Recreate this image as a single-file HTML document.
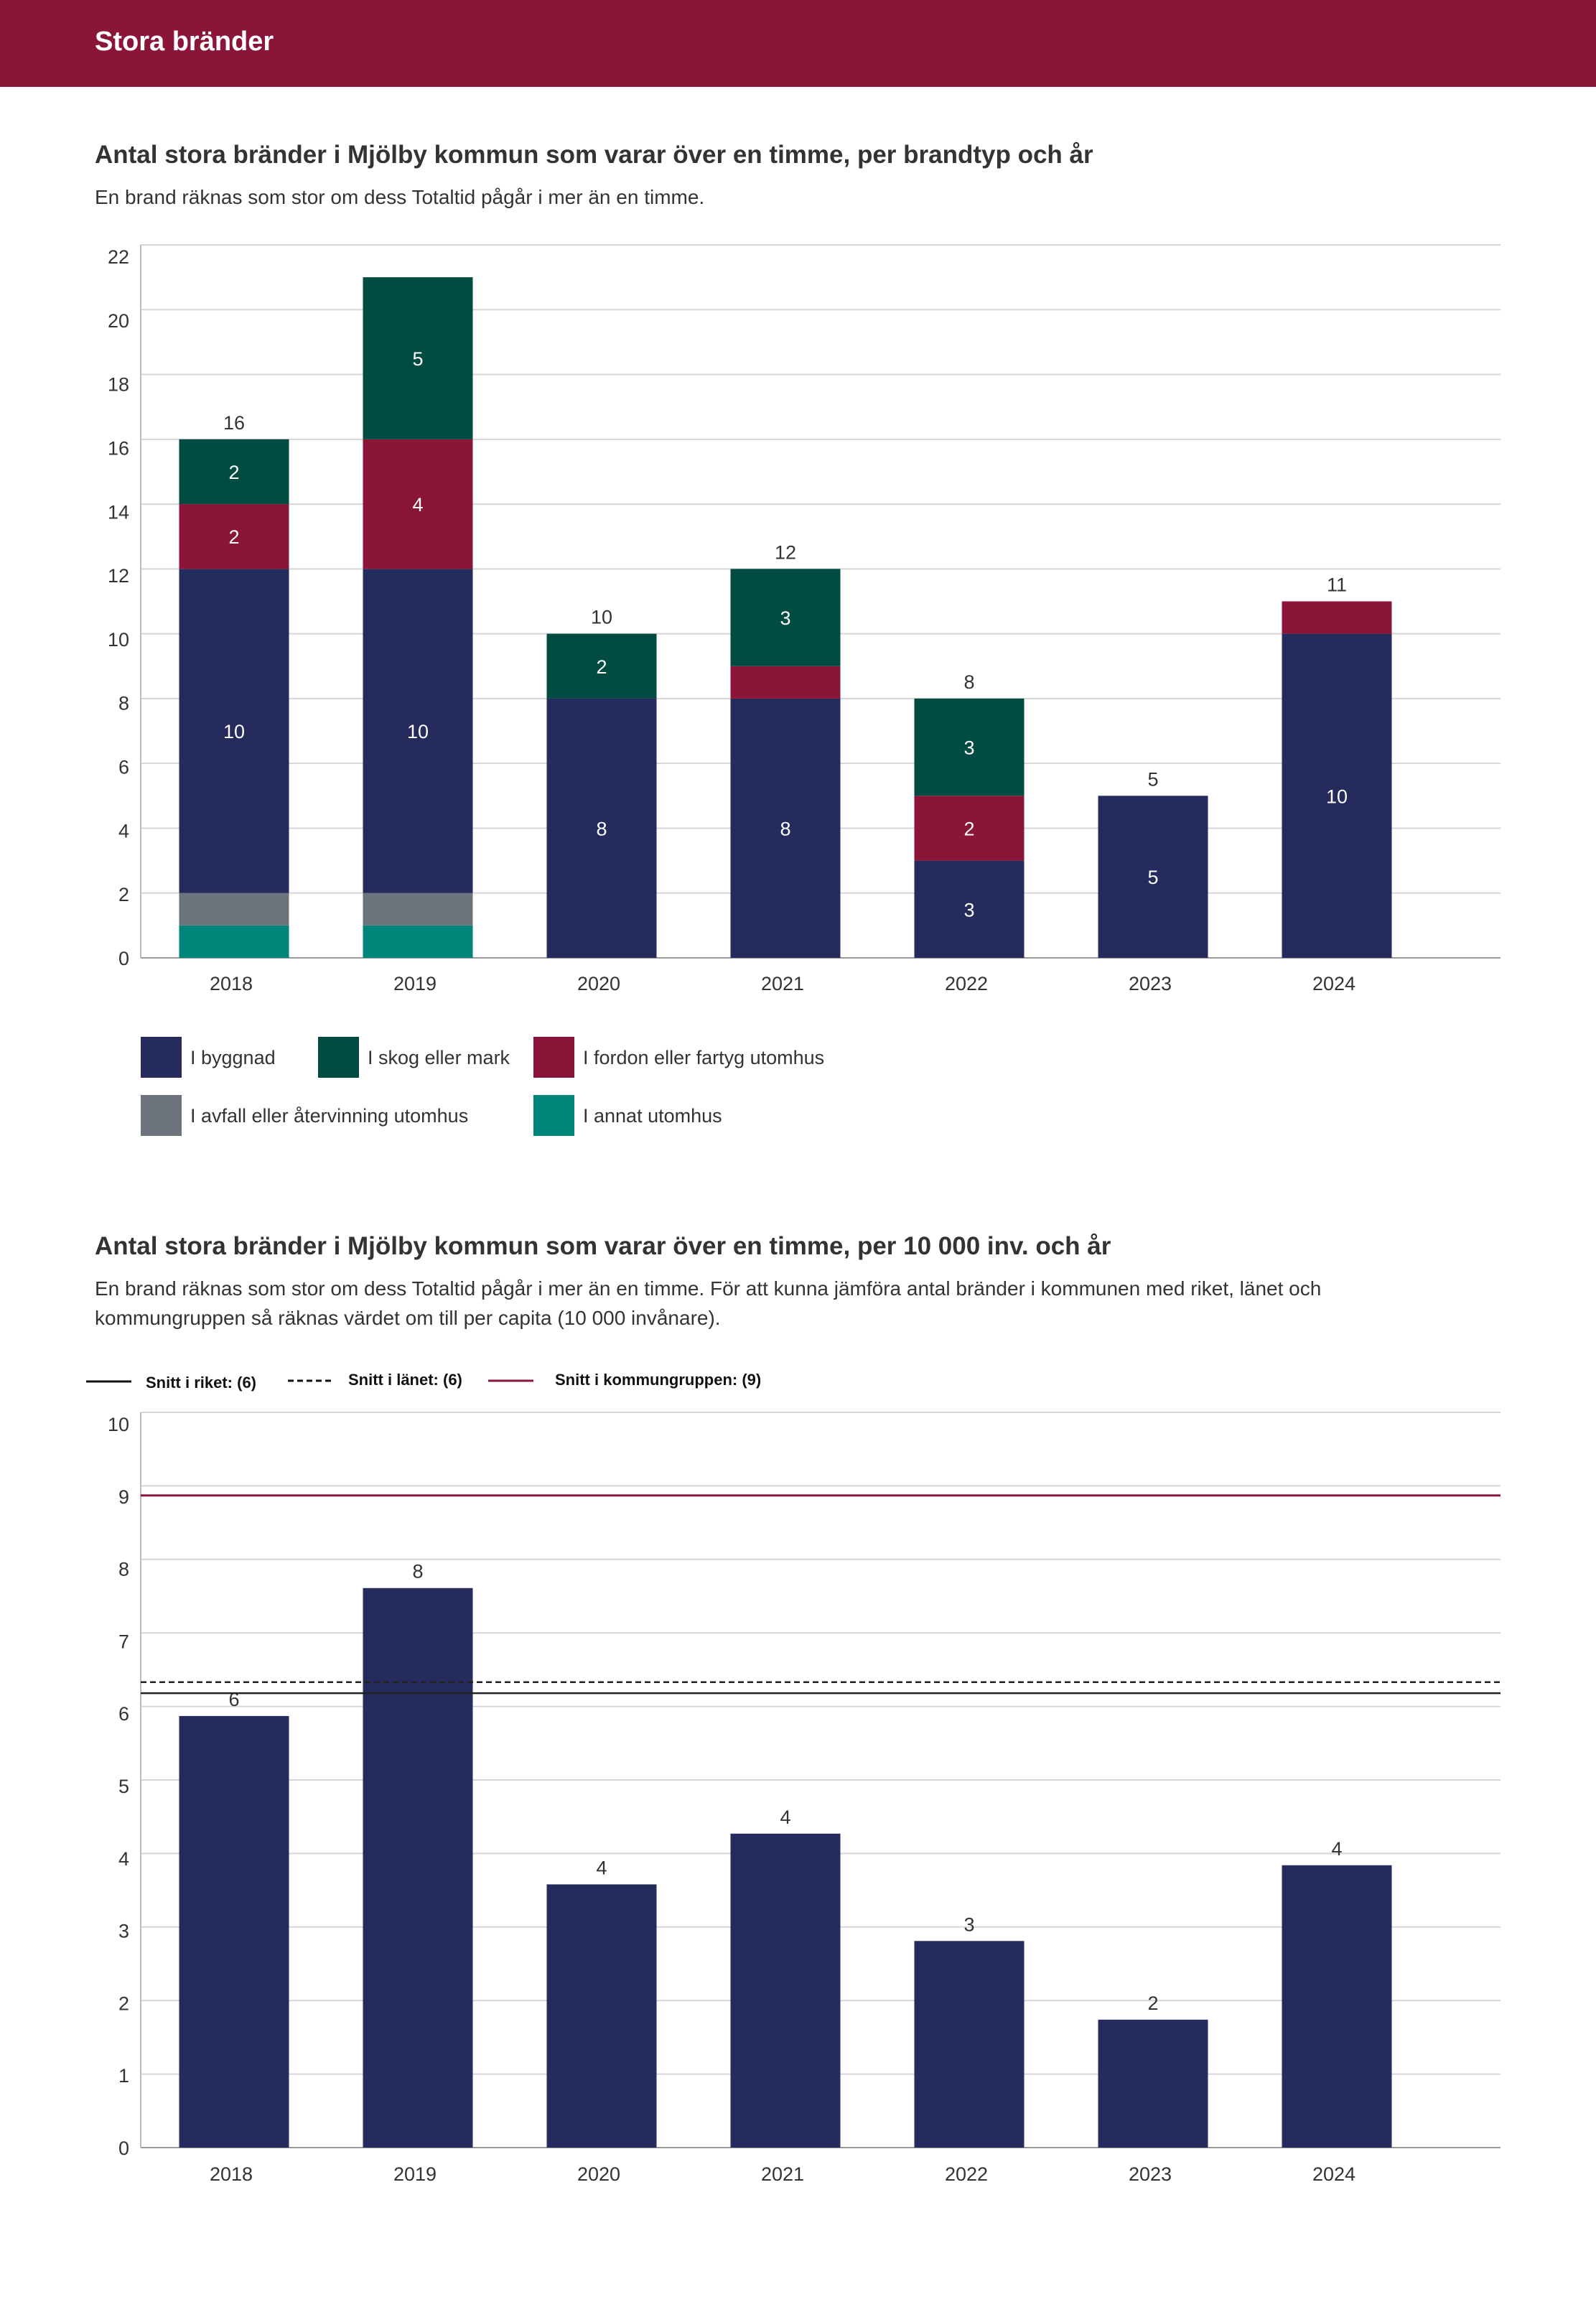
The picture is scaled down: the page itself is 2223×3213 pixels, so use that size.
<!DOCTYPE html>
<html><head><meta charset="utf-8"><style>
body{margin:0;width:2223px;height:3213px;background:#fff;font-family:"Liberation Sans",sans-serif;overflow:hidden}
svg{display:block}
</style></head><body>
<svg width="2223" height="3213" xmlns="http://www.w3.org/2000/svg" font-family="Liberation Sans, sans-serif">
<rect x="0" y="0" width="2223" height="121" fill="#8B1538"/>
<text x="132" y="70" font-size="38" font-weight="bold" fill="#fff">Stora bränder</text>

<text x="132" y="227" font-size="35" font-weight="bold" fill="#333">Antal stora bränder i Mjölby kommun som varar över en timme, per brandtyp och år</text>
<text x="132" y="284" font-size="28" fill="#333">En brand räknas som stor om dess Totaltid pågår i mer än en timme.</text>
<g id="c1"></g>
<g id="l1"></g>

<text x="132" y="1747" font-size="35" font-weight="bold" fill="#333">Antal stora bränder i Mjölby kommun som varar över en timme, per 10 000 inv. och år</text>
<text x="132" y="1804" font-size="28" fill="#333">En brand räknas som stor om dess Totaltid pågår i mer än en timme. För att kunna jämföra antal bränder i kommunen med riket, länet och</text>
<text x="132" y="1845" font-size="28" fill="#333">kommungruppen så räknas värdet om till per capita (10 000 invånare).</text>
<g font-size="22" font-weight="bold" fill="#111">
<line x1="120" y1="1924" x2="183" y2="1924" stroke="#111" stroke-width="3"/>
<text x="203" y="1933">Snitt i riket: (6)</text>
<line x1="401" y1="1923" x2="463" y2="1923" stroke="#111" stroke-width="3" stroke-dasharray="8,5"/>
<text x="485" y="1929">Snitt i länet: (6)</text>
<line x1="680" y1="1923" x2="743" y2="1923" stroke="#8B1538" stroke-width="3"/>
<text x="773" y="1929">Snitt i kommungruppen: (9)</text>
</g>
<g id="c2"></g>
</svg>
<script>
const years = ["2018","2019","2020","2021","2022","2023","2024"];
const byggnad = [10,10,8,8,3,5,10];
const skog = [2,5,2,3,3,0,0];
const fordon = [2,4,0,1,2,0,1];
const avfall = [1,1,0,0,0,0,0];
const annat = [1,1,0,0,0,0,0];
const ticks1 = [0,2,4,6,8,10,12,14,16,18,20,22];
const perCapita = [5.87,7.61,3.58,4.27,2.81,1.74,3.84];
const perCapitaLabels = ["6","8","4","4","3","2","4"];
const ticks2 = [0,1,2,3,4,5,6,7,8,9,10];
const snittRiket = 6.18;
const snittLanet = 6.33;
const snittKommungrupp = 8.87;

const NS="http://www.w3.org/2000/svg";
function mk(parent,tag,attrs,txt){const e=document.createElementNS(NS,tag);for(const k in attrs)e.setAttribute(k,attrs[k]);if(txt!==undefined)e.textContent=txt;parent.appendChild(e);return e;}
const L=196,R=2090,step=256,first=326,bw=153;
const xc=i=>first+i*step;

// chart 1
const c1=document.getElementById('c1');
const y0a=1334,pxA=(1334-341)/22;
const ya=v=>y0a-v*pxA;
ticks1.forEach(t=>{
  const g=mk(c1,'line',{x1:L,x2:R,y1:ya(t),y2:ya(t),stroke:t===0?'#999':'#d6d6d6','stroke-width':2});
  
  
  const tx=mk(c1,'text',{x:180,y:ya(t)+10+16*t/22,'font-size':27,fill:'#333','text-anchor':'end'},t);
  
  
});
const ax1=mk(c1,'line',{x1:L,x2:L,y1:ya(22),y2:y0a,stroke:'#bbb','stroke-width':2});


const series=[[annat,'#00857A','annat'],[avfall,'#6C737C','avfall'],[byggnad,'#252B5C','byggnad'],[fordon,'#8B1538','fordon'],[skog,'#024B43','skog']];
years.forEach((yr,i)=>{
  let acc=0;
  series.forEach(([arr,col,nm])=>{
    const v=arr[i]; if(!v) return;
    const r=mk(c1,'rect',{x:xc(i)-bw/2,y:ya(acc+v),width:bw,height:v*pxA,fill:col});
    
    
    if(v>=2){
      const t=mk(c1,'text',{x:xc(i),y:ya(acc+v/2)+10,'font-size':27,fill:'#fff','text-anchor':'middle'},v);
      
      
    }
    acc+=v;
  });
  if(acc<=20){
    const tt=mk(c1,'text',{x:xc(i),y:ya(acc)-14,'font-size':27,fill:'#333','text-anchor':'middle'},acc);
    
    
  }
  const xl=mk(c1,'text',{x:xc(i)-4,y:1379,'font-size':27,fill:'#333','text-anchor':'middle'},yr);
  
  
});
// legend 1
const l1=document.getElementById('l1');
const legItems=[['I byggnad','#252B5C',196,1444],['I skog eller mark','#024B43',443,1444],['I fordon eller fartyg utomhus','#8B1538',743,1444],['I avfall eller återvinning utomhus','#6C737C',196,1525],['I annat utomhus','#00857A',743,1525]];
legItems.forEach(([lab,col,x,y])=>{
  const s=mk(l1,'rect',{x:x,y:y,width:57,height:57,fill:col});
  
  
  const t=mk(l1,'text',{x:x+69,y:y+38,'font-size':27,fill:'#333'},lab);
  
  
});

// chart 2
const c2=document.getElementById('c2');
const y0b=2991,pxB=(2991-1967)/10;
const yb=v=>y0b-v*pxB;
ticks2.forEach(t=>{
  const g=mk(c2,'line',{x1:L,x2:R,y1:yb(t),y2:yb(t),stroke:t===0?'#999':'#d6d6d6','stroke-width':2});
  
  
  const tx=mk(c2,'text',{x:180,y:yb(t)+10+16*t/10,'font-size':27,fill:'#333','text-anchor':'end'},t);
  
  
});
const ax2=mk(c2,'line',{x1:L,x2:L,y1:yb(10),y2:y0b,stroke:'#bbb','stroke-width':2});


years.forEach((yr,i)=>{
  const v=perCapita[i];
  const r=mk(c2,'rect',{x:xc(i)-bw/2,y:yb(v),width:bw,height:v*pxB,fill:'#252B5C'});
  
  
  const t=mk(c2,'text',{x:xc(i),y:yb(v)-14,'font-size':27,fill:'#333','text-anchor':'middle'},perCapitaLabels[i]);
  
  
  const xl=mk(c2,'text',{x:xc(i)-4,y:3037,'font-size':27,fill:'#333','text-anchor':'middle'},yr);
  
  
});
const rl=mk(c2,'line',{x1:L,x2:R,y1:yb(snittKommungrupp),y2:yb(snittKommungrupp),stroke:'#8B1538','stroke-width':3});


const dl=mk(c2,'line',{x1:L,x2:R,y1:yb(snittLanet),y2:yb(snittLanet),stroke:'#222','stroke-width':2.5,'stroke-dasharray':'8,5'});


const sl=mk(c2,'line',{x1:L,x2:R,y1:yb(snittRiket),y2:yb(snittRiket),stroke:'#222','stroke-width':2.5});


</script>
</body></html>
